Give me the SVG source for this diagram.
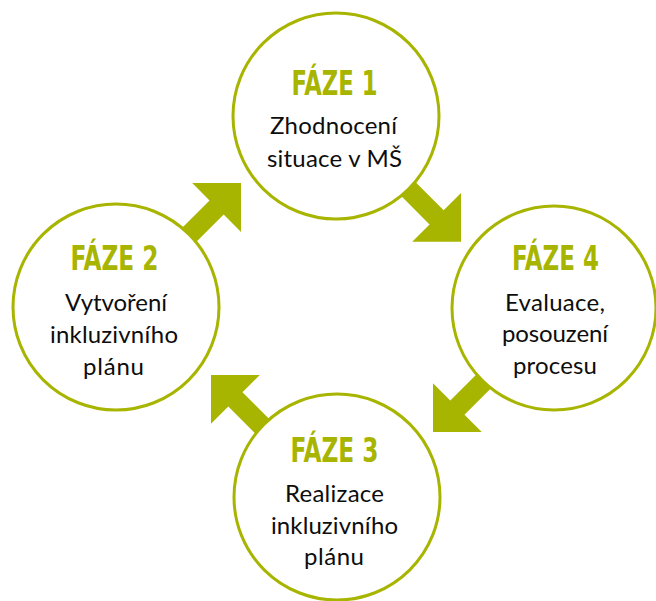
<svg xmlns="http://www.w3.org/2000/svg" xmlns:xlink="http://www.w3.org/1999/xlink" width="656" height="601" viewBox="0 0 656 601">
  <style>
    .ring { fill: #ffffff; stroke: #A8B500; stroke-width: 3; }
    .arrow { fill: #A8B500; }
    .phase { font-family: "Liberation Sans Narrow", "DejaVu Sans Condensed", "Liberation Sans", sans-serif; font-stretch: condensed; font-weight: bold; font-size: 33px; fill: #A8B500; text-anchor: middle; }
    .body { font-family: Lato, "Open Sans", "Liberation Sans", sans-serif; font-size: 24px; fill: #0d0d0d; text-anchor: middle; }
  </style>
  <defs>
    <path id="arrow" d="M-6,-10 L36.5,-10 L36.5,-34.5 L71,0 L36.5,34.5 L36.5,10 L-6,10 Z"/>
  </defs>
  <rect width="656" height="601" fill="#ffffff"/>
  <g id="connectors" class="arrow">
    <use href="#arrow" transform="translate(190.8,233.3) rotate(-45)"/>
    <use href="#arrow" transform="translate(410.8,191.5) rotate(45)"/>
    <use href="#arrow" transform="translate(483.2,381.8) rotate(135)"/>
    <use href="#arrow" transform="translate(261.2,425.2) rotate(-135)"/>
  </g>
  <g id="faze1">
    <circle class="ring" cx="336" cy="116" r="103"/>
    <text class="phase" x="334.5" y="94.5" textLength="86" lengthAdjust="spacingAndGlyphs">FÁZE 1</text>
    <text class="body" x="333.5" y="134" textLength="127">Zhodnocení</text>
    <text class="body" x="334.5" y="167" textLength="135">situace v MŠ</text>
  </g>
  <g id="faze2">
    <circle class="ring" cx="116" cy="307" r="103"/>
    <text class="phase" x="114.5" y="270" textLength="88" lengthAdjust="spacingAndGlyphs">FÁZE 2</text>
    <text class="body" x="116" y="311" textLength="102">Vytvoření</text>
    <text class="body" x="114" y="343" textLength="128">inkluzivního</text>
    <text class="body" x="113.5" y="375" textLength="61">plánu</text>
  </g>
  <g id="faze3">
    <circle class="ring" cx="337" cy="497" r="103"/>
    <text class="phase" x="334.5" y="462" textLength="88" lengthAdjust="spacingAndGlyphs">FÁZE 3</text>
    <text class="body" x="334.5" y="502" textLength="99">Realizace</text>
    <text class="body" x="334.5" y="534" textLength="127">inkluzivního</text>
    <text class="body" x="334" y="565" textLength="60">plánu</text>
  </g>
  <g id="faze4">
    <circle class="ring" cx="554" cy="308" r="102"/>
    <text class="phase" x="555.5" y="270" textLength="87" lengthAdjust="spacingAndGlyphs">FÁZE 4</text>
    <text class="body" x="555" y="311" textLength="100">Evaluace,</text>
    <text class="body" x="555" y="342" textLength="106">posouzení</text>
    <text class="body" x="555" y="374" textLength="84">procesu</text>
  </g>
</svg>
